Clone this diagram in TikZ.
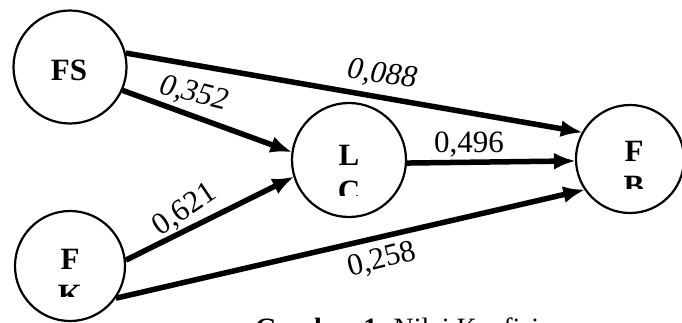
\documentclass[tikz,border=0pt]{standalone}
\usepackage{fontspec}
\setmainfont{Liberation Serif}
\usetikzlibrary{arrows.meta}
\tikzset{
  circ/.style={draw, circle, line width=2.2pt, minimum size=#1, inner sep=0pt},
  nlab/.style={font=\fontsize{31}{36}\selectfont\bfseries, anchor=base, inner sep=0pt},
  coef/.style={font=\fontsize{31}{36}\selectfont, inner sep=0pt},
  conn/.style={line width=5.5pt, -{Latex[length=22pt,width=17pt]}, shorten >=-1pt}
}
\begin{document}
\begin{tikzpicture}[x=1pt,y=1pt]
\useasboundingbox (0,0) rectangle (682,-322);
\clip (0,0) rectangle (682,-322);
% circles
\node[circ=113] (FS) at (70,-67) {};
\node[circ=114] (LC) at (349,-160) {};
\node[circ=108] (FB) at (630,-159) {};
\node[circ=110] (FK) at (70,-266) {};
% labels inside circles
\node[nlab] (FSt) at (69,-80) {FS};
\begin{scope}
  \clip (300,-100) rectangle (400,-195);
  \node[nlab] (LCa) at (349,-165) {L};
  \node[nlab] (LCb) at (349,-201) {C};
\end{scope}
\begin{scope}
  \clip (580,-100) rectangle (682,-188);
  \node[nlab] (FBa) at (634,-161) {F};
  \node[nlab] (FBb) at (634,-196) {B};
\end{scope}
\begin{scope}
  \clip (20,-210) rectangle (120,-296);
  \node[nlab] (FKa) at (70,-269) {F};
  \node[nlab] (FKb) at (70,-305) {K};
\end{scope}
% connectors
\draw[conn] (FS.14) -- (FB.151);
\draw[conn] (FS.-24) -- (LC.172);
\draw[conn] (LC.-3) -- (FB.182);
\draw[conn] (FK.6) -- (LC.197);
\draw[conn] (FK.-35) -- (FB.214);
% coefficients
\node[coef, rotate=-8] (c1) at (382,-75) {\itshape 0,088};
\node[coef, rotate=-14] (c2) at (194,-94) {\itshape 0,352};
\node[coef] (c3) at (469,-145) {0,496};
\node[coef, rotate=34] (c4) at (185,-210) {0,621};
\node[coef, rotate=14] (c5) at (382,-260) {0,258};
% caption (cut off at the bottom)
\node[font=\fontsize{28}{34}\selectfont, anchor=base west, inner sep=0pt] (cap) at (255,-337) {\textbf{Gambar 1.} Nilai Koefisien};
\end{tikzpicture}
\end{document}
